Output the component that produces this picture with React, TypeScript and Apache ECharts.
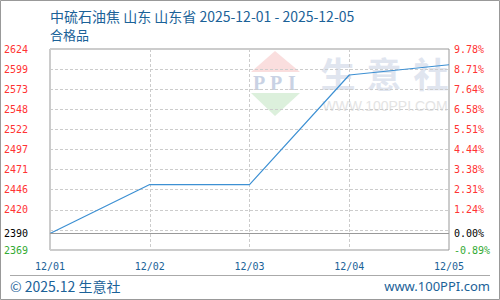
import React, { useEffect, useRef } from "react";
import * as echarts from "echarts";

const categories = ["12/01", "12/02", "12/03", "12/04", "12/05"];
const prices = [2390, 2452, 2452, 2591, 2604];
const AXIS_MIN = 2369;
const AXIS_MAX = 2624;
const AXIS_STEP = 25.5;
const BASE = 2390;
const leftTickLabels = ["2369", "", "2420", "2446", "2471", "2497", "2522", "2548", "2573", "2599", "2624"];
const rightTickLabels = ["-0.89%", "", "1.24%", "2.31%", "3.38%", "4.44%", "5.51%", "6.58%", "7.64%", "8.71%", "9.78%"];
const baseLeftLabel = "2390";
const baseRightLabel = "0.00%";
const titleLine1 = "中硫石油焦 山东 山东省 2025-12-01 - 2025-12-05";
const titleLine2 = "合格品";
const footerLeft = "© 2025.12 生意社";
const footerRight = "www.100PPI.com";

const MONO = "DejaVu Sans Mono";
const BLUE = "#1b6298";

export default function App() {
  const ref = useRef<HTMLDivElement>(null);
  useEffect(() => {
    const chart = echarts.init(ref.current!, null, { renderer: "svg" });
    const idx = (v: number) => Math.round(v / AXIS_STEP);
    const rich = {
      r: { color: "#ff3333", fontFamily: MONO, fontSize: 10 },
      g: { color: "#33aa33", fontFamily: MONO, fontSize: 10 },
    };
    const wm = (text: string, x: number, y: number, size: number, color: string, family: string, weight: any = "normal") => ({
      type: "text",
      x,
      y,
      z: -10,
      silent: true,
      style: {
        text,
        fill: color,
        font: `${weight} ${size}px "${family}"`,
        textAlign: "center",
        textVerticalAlign: "middle",
      },
    });
    const graphics: any[] = [
      {
        type: "rect",
        silent: true,
        shape: { x: 0.5, y: 0.5, width: 499, height: 299 },
        style: { fill: "none", stroke: "#999", lineWidth: 1 },
      },
      {
        type: "line",
        silent: true,
        shape: { x1: 10, y1: 275.5, x2: 490, y2: 275.5 },
        style: { stroke: "#aaa", lineWidth: 1 },
      },
      {
        type: "text",
        x: 50,
        y: 16,
        style: { text: titleLine1, fill: BLUE, font: '14px "Noto Sans CJK SC"', textVerticalAlign: "middle" },
      },
      {
        type: "text",
        x: 50,
        y: 34,
        style: { text: titleLine2, fill: BLUE, font: '13px "Noto Sans CJK SC"', textVerticalAlign: "middle" },
      },
      {
        type: "text",
        x: 10,
        y: 286,
        style: { text: footerLeft, fill: BLUE, font: '14px "Noto Sans CJK SC"', textVerticalAlign: "middle" },
      },
      {
        type: "text",
        x: 490,
        y: 286,
        style: { text: footerRight, fill: BLUE, font: '13px "Noto Sans"', textAlign: "right", textVerticalAlign: "middle" },
      },
      {
        type: "polygon",
        z: -10,
        silent: true,
        shape: { points: [[275, 51], [300, 72], [251, 72]] },
        style: { fill: "#fadede" },
      },
      {
        type: "polygon",
        z: -10,
        silent: true,
        shape: { points: [[251, 93], [300, 93], [275, 116]] },
        style: { fill: "#dcf0dc" },
      },
      wm("P", 259, 83, 20, "#c9d2e4", "Liberation Serif", "bold"),
      wm("P", 276, 83, 20, "#c9d2e4", "Liberation Serif", "bold"),
      wm("I", 292, 83, 20, "#c9d2e4", "Liberation Serif", "bold"),
      wm("生", 338, 72, 35, "#e0e5ef", "Noto Sans CJK SC", "bold"),
      wm("意", 384, 72, 35, "#e0e5ef", "Noto Sans CJK SC", "bold"),
      wm("社", 431, 72, 35, "#e0e5ef", "Noto Sans CJK SC", "bold"),
      wm("WWW.100PPI.COM", 385, 106, 14, "#e4e4e4", "Liberation Sans"),
    ];
    chart.setOption({
      animation: false,
      backgroundColor: "#fff",
      grid: { left: 50, right: 51, top: 49, bottom: 50, show: true, borderColor: "#999", borderWidth: 1, containLabel: false },
      xAxis: {
        type: "category",
        data: categories,
        boundaryGap: false,
        axisLine: { show: false },
        axisTick: { show: false },
        axisLabel: { color: BLUE, fontFamily: MONO, fontSize: 10, margin: 11, showMinLabel: true, showMaxLabel: true },
        splitLine: { show: true, lineStyle: { color: "#ccc", type: [3, 2], width: 1 } },
      },
      yAxis: [
        {
          type: "value",
          min: 0,
          max: AXIS_MAX - AXIS_MIN,
          interval: AXIS_STEP,
          axisLine: { show: false },
          axisTick: { show: false },
          splitLine: { show: true, lineStyle: { color: "#ccc", type: [3, 2], width: 1 } },
          axisLabel: {
            margin: 22,
            formatter: (v: number) => {
              const i = idx(v);
              const t = leftTickLabels[i];
              if (!t) return "";
              return i === 0 ? `{g|${t}}` : `{r|${t}}`;
            },
            rich,
          },
        },
        {
          type: "value",
          min: 0,
          max: AXIS_MAX - AXIS_MIN,
          interval: AXIS_STEP,
          position: "right",
          axisLine: { show: false },
          axisTick: { show: false },
          splitLine: { show: false },
          axisLabel: {
            margin: 5,
            formatter: (v: number) => {
              const i = idx(v);
              const t = rightTickLabels[i];
              if (!t) return "";
              return i === 0 ? `{g|${t}}` : `{r|${t}}`;
            },
            rich,
          },
        },
      ],
      series: [
        {
          type: "line",
          data: prices.map((p) => p - AXIS_MIN),
          yAxisIndex: 0,
          showSymbol: false,
          symbol: "none",
          lineStyle: { color: "#3d90d3", width: 1.2 },
          z: 3,
          markLine: {
            silent: true,
            symbol: "none",
            lineStyle: { color: "#999", type: "solid", width: 1 },
            label: { show: false },
            data: [{ yAxis: BASE - AXIS_MIN }],
          },
        },
      ],
      graphic: graphics,
    });
    const by = Math.round(chart.convertToPixel({ yAxisIndex: 0 }, BASE - AXIS_MIN) as number);
    const gridLeft = 50;
    const gridRight = 449;
    chart.setOption({
      graphic: [
        ...graphics,
        {
          type: "text",
          x: gridLeft - 22,
          y: by,
          style: { text: baseLeftLabel, fill: "#000", font: `10px "${MONO}"`, textAlign: "right", textVerticalAlign: "middle" },
        },
        {
          type: "text",
          x: gridRight + 5,
          y: by,
          style: { text: baseRightLabel, fill: "#000", font: `10px "${MONO}"`, textAlign: "left", textVerticalAlign: "middle" },
        },
      ],
    });
    return () => chart.dispose();
  }, []);
  return <div ref={ref} style={{ position: "fixed", left: 0, top: 0, width: 500, height: 300 }} />;
}
